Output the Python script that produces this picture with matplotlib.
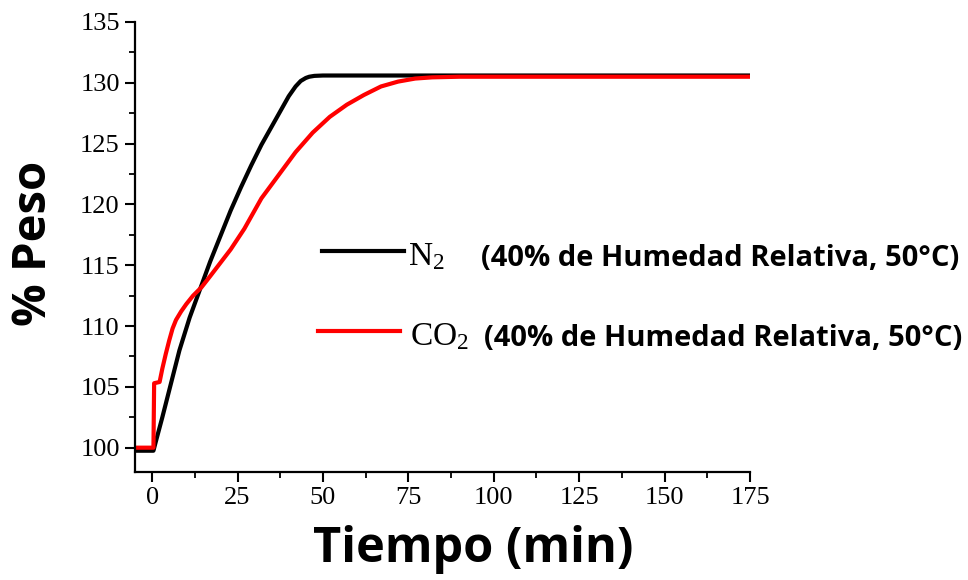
import matplotlib
matplotlib.use("Agg")
import matplotlib.pyplot as plt
from matplotlib.ticker import MultipleLocator
from matplotlib.lines import Line2D

# Weight gain curves (% of initial mass) versus time in minutes
t_n2 = [-5, 0.4, 1.0, 3, 5, 8, 11, 14, 17, 20, 23, 26, 29, 32, 35, 38, 40,
        42, 43.5, 45, 46, 47.5, 50, 60, 100, 175]
w_n2 = [99.75, 99.75, 100.4, 102.5, 104.7, 108.0, 110.7, 113.0, 115.3, 117.4,
        119.5, 121.4, 123.2, 124.9, 126.4, 127.9, 128.9, 129.7, 130.15, 130.4,
        130.5, 130.57, 130.6, 130.6, 130.6, 130.6]

t_co2 = [-5, 0.4, 0.6, 2.2, 3, 4, 5, 6, 7, 8.5, 10, 12, 14.5, 17, 20, 23, 27,
         32, 37, 42, 47, 52, 57, 62, 67, 72, 77, 82, 90, 175]
w_co2 = [100.0, 100.0, 105.3, 105.4, 106.5, 107.7, 108.8, 109.8, 110.5, 111.2,
         111.8, 112.5, 113.2, 114.1, 115.2, 116.3, 118.0, 120.5, 122.4, 124.3,
         125.9, 127.2, 128.2, 129.0, 129.7, 130.1, 130.35, 130.45, 130.5, 130.5]

series_labels = [r"$\mathregular{N_2}$", r"$\mathregular{CO_2}$"]
series_note = "(40% de Humedad Relativa, 50°C)"
x_ticks = [0, 25, 50, 75, 100, 125, 150, 175]
y_ticks = [100, 105, 110, 115, 120, 125, 130, 135]

SANS = "Open Sans"
SERIF = "Liberation Serif"
plt.rcParams["mathtext.fontset"] = "custom"
plt.rcParams["mathtext.rm"] = SERIF

W, H = 968, 580
fig = plt.figure(figsize=(W / 100, H / 100), dpi=100)
ax = fig.add_axes([135 / W, 1 - 472 / H, 615 / W, 450 / H])

ax.plot(t_n2, w_n2, color="black", lw=3.0, solid_joinstyle="round")
ax.plot(t_co2, w_co2, color="#ff0000", lw=3.0, solid_joinstyle="round")

ax.set_xlim(-5, 175)
ax.set_ylim(98, 135)
ax.set_xticks(x_ticks)
ax.set_yticks(y_ticks)
ax.xaxis.set_minor_locator(MultipleLocator(12.5))
ax.yaxis.set_minor_locator(MultipleLocator(2.5))

for s in ("top", "right"):
    ax.spines[s].set_visible(False)
for s in ("left", "bottom"):
    ax.spines[s].set_linewidth(1.6)

ax.tick_params(which="major", direction="out", length=7, width=1.5,
               labelsize=19, pad=4)
ax.tick_params(which="minor", direction="out", length=4, width=1.3)
for lab in ax.get_xticklabels() + ax.get_yticklabels():
    lab.set_fontfamily(SERIF)

fig.text(473 / W, 1 - 549 / H, "Tiempo (min)", ha="center", va="center",
         fontsize=35, fontweight="bold", family=SANS)
fig.text(33 / W, 1 - 243 / H, "% Peso", ha="center", va="center",
         rotation=90, fontsize=34, fontweight="bold", family=SANS)

# Legend drawn by hand
colors = ["black", "#ff0000"]
rows_y = [251, 331]
line_x = [(322, 404), (318, 400)]
label_x = [408, 410]
note_x = [481, 484]
for lab, col, yy, lx, tx, nx in zip(series_labels, colors, rows_y, line_x,
                                     label_x, note_x):
    yf = 1 - yy / H
    fig.add_artist(Line2D([lx[0] / W, lx[1] / W], [yf, yf], color=col,
                          lw=3.0, transform=fig.transFigure))
    fig.text(tx / W, 1 - (yy + 14) / H, lab, ha="left", va="baseline",
             fontsize=24, family=SERIF)
    fig.text(nx / W, 1 - (yy + 7) / H, series_note, ha="left",
             va="center", fontsize=21, fontweight="bold", family=SANS)

fig.savefig("out.png", dpi=100, facecolor="white")
